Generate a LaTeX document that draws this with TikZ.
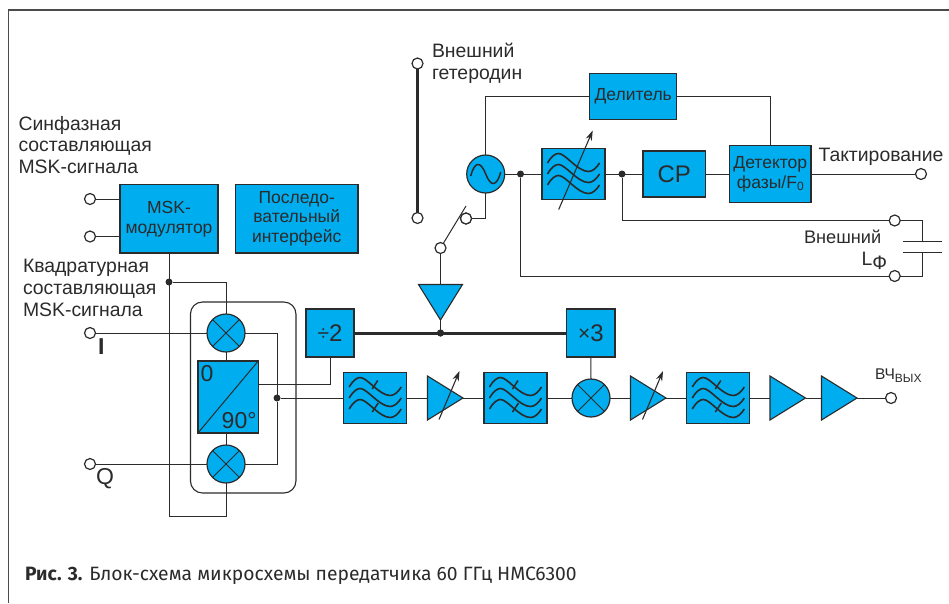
\documentclass[tikz,border=0pt]{standalone}
\usepackage{fontspec}
\setmainfont{Liberation Sans}
\newfontfamily\capfont{Fira Sans}
\usetikzlibrary{shapes.geometric,arrows.meta,calc}
\definecolor{blu}{HTML}{00ADEF}
\definecolor{ink}{HTML}{2B2B2B}
\tikzset{
 wire/.style={draw=ink,line width=1.0pt,line join=miter},
 thickwire/.style={draw=ink,line width=3pt},
 blk/.style={draw=ink,fill=blu,line width=1.2pt,inner sep=0pt,outer sep=0pt,align=center,text=ink,font=\fontsize{17.5}{20}\selectfont},
 term/.style={circle,draw=ink,fill=white,line width=1.2pt,minimum size=11pt,inner sep=0pt,outer sep=0pt},
 jn/.style={circle,fill=ink,minimum size=7pt,inner sep=0pt,outer sep=0pt},
 rnd/.style={circle,draw=ink,fill=blu,line width=1.2pt,minimum size=38pt,inner sep=0pt,outer sep=0pt},
 amp/.style={isosceles triangle,isosceles triangle stretches,shape border rotate=0,draw=ink,fill=blu,line width=1.1pt,minimum width=44pt,minimum height=35.5pt,inner sep=0pt,outer sep=0pt,anchor=apex},
 lbl/.style={text=ink,inner sep=0pt,outer sep=0pt,align=left,font=\fontsize{19.4}{21.7}\selectfont},
 filt/.style={blk,minimum width=63pt,minimum height=51pt},
 tuner/.style={draw=ink,line width=1.1pt,-{Stealth[length=10pt,width=6.5pt]}},
}
\newcommand{\wavesat}[1]{%
 \begin{scope}[shift={(#1.center)},draw=ink,line width=1.6pt]
  \foreach \d in {-11,0,11}{
   \draw[yshift=\d pt] (-26,0) .. controls (-22,-7) and (-18,-9.5) .. (-15,-9.5) .. controls (-8,-9.5) and (4,8.5) .. (15,8.5) .. controls (19,8.5) and (23,5) .. (26,0);
  }
 \end{scope}}
\newcommand{\ticksat}[1]{%
 \begin{scope}[shift={(#1.center)},draw=ink,line width=1.5pt]
  \draw (-3,-9) -- (2.5,-17.5);
  \draw (-3,14) -- (3,5);
 \end{scope}}
\newcommand{\crossin}[1]{\draw[wire] (#1.45) -- (#1.225) (#1.135) -- (#1.-45);}
\begin{document}
\begin{tikzpicture}[x=1pt,y=-1pt]
\useasboundingbox (0,0) rectangle (949,603);
% frame
\coordinate (fa) at (949,10); \coordinate (fb) at (8.5,10); \coordinate (fc) at (8.5,603);
\draw[draw=ink!85,line width=1.3pt] (fa) -- (fb) -- (fc);
% rounded enclosure
\node[draw=ink,line width=1.1pt,rounded corners=12pt,minimum width=105.5pt,minimum height=191pt,inner sep=0pt,outer sep=0pt] (enc) at (243.2,397.5) {};
% blocks
\node[blk,minimum width=98pt,minimum height=68.5pt] (msk) at (169,218.7) {MSK-\\модулятор};
\node[blk,minimum width=122.5pt,minimum height=68.5pt] (ser) at (296.7,218.7) {\raisebox{-1pt}{Последо-}\\вательный\\интерфейс};
\node[blk,minimum width=87pt,minimum height=46pt] (del) at (633.2,96.7) {Делитель};
\node[filt] (f1) at (573.5,174) {};
\node[blk,minimum width=62.3pt,minimum height=46pt,font=\fontsize{24}{26}\selectfont] (cp) at (674.2,174) {CP};
\node[blk,minimum width=81.3pt,minimum height=56.5pt] (det) at (770.3,174) {Детектор\\фазы/F\raisebox{-2.5pt}{\fontsize{12}{12}\selectfont 0}};
\node[rnd] (osc) at (485.7,174) {};
\node[blk,minimum width=48pt,minimum height=48pt,font=\fontsize{24}{26}\selectfont] (d2) at (330,333) {\raisebox{1pt}{\fontsize{21}{21}\selectfont÷}2};
\node[blk,minimum width=48.3pt,minimum height=48pt,font=\fontsize{24}{26}\selectfont] (m3) at (590.8,333) {\raisebox{1pt}{\fontsize{21}{21}\selectfont×}3};
\node[blk,minimum width=60.3pt,minimum height=72pt] (sp) at (228.1,397) {};
\node[rnd] (mI) at (226,333) {};
\node[rnd] (mQ) at (226,464) {};
\node[rnd] (mR) at (591,398) {};
\node[filt] (f2) at (375.2,398) {};
\node[filt] (f3) at (515.5,398) {};
\node[filt] (f4) at (718.3,398) {};
\node[amp] (a1) at (463,398) {};
\node[amp] (a2) at (666,398) {};
\node[amp] (a3) at (805.5,398) {};
\node[amp] (a4) at (857,398) {};
\node[amp,shape border rotate=-90] (buf) at (440.5,320) {};
% terminals
\node[term] (t1) at (90,199) {};
\node[term] (t2) at (90,236.5) {};
\node[term] (tI) at (90,333) {};
\node[term] (tQ) at (90,464) {};
\node[term] (lo1) at (417.5,63.5) {};
\node[term] (lo2) at (417.5,218) {};
\node[term] (s1) at (440.5,248) {};
\node[term] (s2) at (466,218.5) {};
\node[term] (tclk) at (921,174) {};
\node[term] (tc1) at (894.7,220.5) {};
\node[term] (tc2) at (894.7,276) {};
\node[term] (tout) at (891,398) {};
% junctions
\node[jn] (j1) at (520.5,174) {};
\node[jn] (j2) at (622,174) {};
\node[jn] (j3) at (440.5,333) {};
\node[jn] (j4) at (169,282) {};
\node[jn] (j5) at (277,398) {};
% helper points
\coordinate (blade) at (466,206);
\coordinate (lpa) at (169,516);
\coordinate (lpb) at (226,516);
\coordinate (spo) at (258.3,384);
\coordinate (pa) at (922.3,241);
\coordinate (pb) at (922.3,252.5);
\coordinate (pa1) at (903.3,241); \coordinate (pa2) at (941.7,241);
\coordinate (pb1) at (903.3,252.5); \coordinate (pb2) at (941.7,252.5);
\coordinate (ca) at (922.3,220.5);
\coordinate (cb) at (922.3,276);
\coordinate (jl) at (520.5,276);
\coordinate (jt) at (622,220.5);
\coordinate (oscup) at (485.7,96.7);
\coordinate (oscdn) at (485.7,218.5);
% connectors
\draw[wire] (t1) -- (t1 -| msk.west);
\draw[wire] (t2) -- (t2 -| msk.west);
\draw[wire] (msk.south) -- (lpa) -- (lpb) -- (mQ.south);
\draw[wire] (j4) -| (mI.north);
\draw[wire] (tI) -- (mI.west);
\draw[wire] (tQ) -- (mQ.west);
\draw[wire] (mI.south) -- (mI.south |- sp.north);
\draw[wire] (mQ.north) -- (mQ.north |- sp.south);
\draw[wire] (mI.east) -| (j5);
\draw[wire] (mQ.east) -| (j5);
\draw[wire] (spo) -| (d2.south);
\draw[wire] (j5) -- (f2.west);
\draw[wire] (f2.east) -- (a1.lower side);
\draw[wire] (a1.apex) -- (f3.west);
\draw[wire] (f3.east) -- (mR.west);
\draw[wire] (mR.east) -- (a2.lower side);
\draw[wire] (a2.apex) -- (f4.west);
\draw[wire] (f4.east) -- (a3.lower side);
\draw[wire] (a3.apex) -- (a4.lower side);
\draw[wire] (a4.apex) -- (tout);
\draw[wire] (m3.south) -- (mR.north);
\draw[thickwire] (d2.east) -- (m3.west);
\draw[wire] (buf.apex) -- (j3);
\draw[wire] (s1) -- (buf.lower side);
\draw[wire] (s1) -- (blade);
\draw[wire] (s2) -- (oscdn) -- (osc.south);
\draw[thickwire] (lo1) -- (lo2);
\draw[wire] (osc.north) -- (oscup) -- (del.west);
\draw[wire] (del.east) -| (det.north);
\draw[wire] (osc.east) -- (f1.west);
\draw[wire] (f1.east) -- (cp.west);
\draw[wire] (cp.east) -- (det.west);
\draw[wire] (det.east) -- (tclk);
\draw[wire] (j2) -- (jt) -- (tc1);
\draw[wire] (j1) -- (jl) -- (tc2);
\draw[wire] (tc1) -- (ca) -- (pa);
\draw[wire] (tc2) -- (cb) -- (pb);
\draw[wire] (pa1) -- (pa2);
\draw[wire] (pb1) -- (pb2);
% redraw terminals/junctions over wires
\node[term] at (s2) {};
\node[jn] at (j3) {};
% symbols
\crossin{mI}\crossin{mQ}\crossin{mR}
\draw[wire] (sp.south west) -- (sp.north east);
\wavesat{f1}\wavesat{f2}\wavesat{f3}\wavesat{f4}
\ticksat{f2}\ticksat{f3}\ticksat{f4}
\coordinate (a1s) at (439,419.5); \coordinate (a1e) at (459.5,371);
\coordinate (a2s) at (642.5,419.5); \coordinate (a2e) at (663,371);
\coordinate (f1s) at (558.7,209.5); \coordinate (f1e) at (592.7,130.5);
\draw[tuner] (a1s) -- (a1e);
\draw[tuner] (a2s) -- (a2e);
\draw[tuner] (f1s) -- (f1e);
\begin{scope}[shift={(osc.center)}]
 \draw[draw=ink,line width=1.5pt] (-15,2) .. controls (-11,-13) and (-5,-13) .. (0,0) .. controls (5,13) and (11,13) .. (15,-2);
\end{scope}
% texts
\node[lbl,anchor=north west] (tx1) at (18.5,116) {Синфазная\\составляющая\\MSK-сигнала};
\node[lbl,anchor=north west] (tx2) at (23,259.5) {Квадратурная\\составляющая\\MSK-сигнала};
\node[lbl,anchor=north west] (tx3) at (432,43.5) {Внешний\\гетеродин};
\node[lbl,anchor=west] (tx4) at (818.5,157) {Тактирование};
\node[lbl,anchor=west,font=\fontsize{18.2}{21}\selectfont] (tx5) at (804,236.5) {Внешний};
\node[lbl,anchor=west] (tx6) at (861.5,261) {L\raisebox{-4pt}{Ф}};
\node[lbl,anchor=west,font=\fontsize{15.5}{17}\selectfont] (tx7) at (875,376) {ВЧ\raisebox{-3pt}{\fontsize{12}{12}\selectfont ВЫХ}};
\node[lbl,anchor=west,font=\bfseries\fontsize{23}{25}\selectfont] (tx8) at (98,346.5) {I};
\node[lbl,anchor=west,font=\fontsize{23}{25}\selectfont] (tx9) at (96,478.5) {Q};
\node[lbl,anchor=west,font=\fontsize{23}{25}\selectfont] (tx10) at (200.5,374) {0};
\node[lbl,anchor=east,font=\fontsize{23}{25}\selectfont] (tx11) at (256.5,421) {90°};
\node[lbl,anchor=west,font=\capfont\fontsize{19.3}{22}\selectfont] (cap) at (25,576) {\textbf{Рис. 3.} Блок-схема микросхемы передатчика 60 ГГц HMC6300};
\end{tikzpicture}
\end{document}
